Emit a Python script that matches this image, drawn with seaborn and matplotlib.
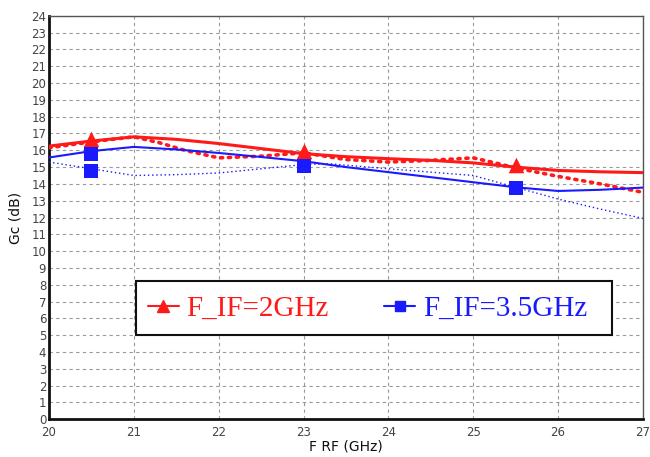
import matplotlib
matplotlib.use("Agg")
import matplotlib.pyplot as plt
from matplotlib.lines import Line2D
from matplotlib.patches import Rectangle
import seaborn as sns

# Conversion gain vs RF frequency
f_rf = [20, 20.5, 21, 21.5, 22, 22.5, 23, 23.5, 24, 24.5, 25, 25.5, 26, 26.5, 27]
gc_if2_solid = [16.25, 16.55, 16.8, 16.65, 16.4, 16.1, 15.8, 15.62, 15.5, 15.4, 15.25, 15.0, 14.8, 14.72, 14.67]
gc_if35_solid = [15.57, 15.95, 16.2, 16.05, 15.84, 15.6, 15.35, 15.0, 14.7, 14.4, 14.1, 13.8, 13.58, 13.65, 13.78]

f_rf_dot_red = [20, 20.5, 21, 21.3, 21.6, 22, 22.5, 23, 23.5, 24, 24.5, 25, 25.3, 25.5, 26, 26.5, 27]
gc_if2_dot = [16.15, 16.5, 16.8, 16.45, 16.0, 15.55, 15.65, 15.85, 15.45, 15.3, 15.4, 15.55, 15.2, 14.95, 14.45, 14.0, 13.5]

f_rf_dot_blue = [20, 20.5, 21, 21.5, 22, 22.5, 23, 23.3, 24, 24.5, 25, 25.5, 26, 26.5, 27]
gc_if35_dot = [15.3, 14.9, 14.5, 14.55, 14.65, 14.9, 15.15, 15.2, 14.9, 14.7, 14.5, 13.8, 13.1, 12.5, 11.95]

# Measured points
f_tri = [20.5, 23, 25.5]
gc_tri = [16.7, 15.95, 15.1]
f_sq = [20.5, 20.5, 23, 25.5]
gc_sq = [15.77, 14.75, 15.05, 13.77]

legend_labels = ["F_IF=2GHz", "F_IF=3.5GHz"]
x_ticks = [20, 21, 22, 23, 24, 25, 26, 27]
y_ticks = list(range(0, 25))

sns.set_style("white")
plt.rcParams["font.family"] = ["DejaVu Sans"]

fig = plt.figure(figsize=(6.5, 4.57), dpi=100)
ax = fig.add_axes([0.0754, 0.0825, 0.9136, 0.883])

red = "#ff1a1a"
blue = "#1a1aff"

sns.lineplot(x=f_rf, y=gc_if2_solid, ax=ax, color=red, linewidth=2.2, zorder=3)
sns.lineplot(x=f_rf_dot_red, y=gc_if2_dot, ax=ax, color=red, linewidth=2.6,
             linestyle=(0, (0.6, 1.6)), dash_capstyle="round", zorder=3)
sns.lineplot(x=f_rf, y=gc_if35_solid, ax=ax, color=blue, linewidth=1.5, zorder=3)
sns.lineplot(x=f_rf_dot_blue, y=gc_if35_dot, ax=ax, color=blue, linewidth=1.0,
             linestyle=(0, (1, 2)), zorder=3)

sns.scatterplot(x=f_tri, y=gc_tri, ax=ax, marker="^", s=125, color=red,
                edgecolor=red, linewidth=0, zorder=4)
sns.scatterplot(x=f_sq, y=gc_sq, ax=ax, marker="s", s=100, color=blue,
                edgecolor=blue, linewidth=0, zorder=4)

ax.set_xlim(20, 27)
ax.set_ylim(0, 24)
ax.set_xticks(x_ticks)
ax.set_yticks(y_ticks)
ax.tick_params(axis="both", length=0, labelsize=8.5, labelcolor="#444444")
ax.tick_params(axis="y", pad=2)
ax.tick_params(axis="x", pad=5)
ax.grid(True, color="#999999", linestyle=(0, (3, 3)), linewidth=0.8)
ax.set_axisbelow(True)

for side in ["top", "right"]:
    ax.spines[side].set_color("#555555")
    ax.spines[side].set_linewidth(1.0)
for side in ["left", "bottom"]:
    ax.spines[side].set_color("#111111")
    ax.spines[side].set_linewidth(2.0)

ax.set_xlabel("F RF (GHz)", fontsize=10, color="#111111", labelpad=0)
ax.set_ylabel("Gc (dB)", fontsize=10, color="#111111", labelpad=6)

# Legend box drawn as its own white frame, entries placed inside it
box = Rectangle((0.1465, 0.2089), 0.8013, 0.1338, transform=ax.transAxes,
                facecolor="white", edgecolor="#111111", linewidth=1.5, zorder=5)
ax.add_patch(box)

handles = [
    Line2D([0], [0], color=red, linewidth=1.5, marker="^", markersize=9),
    Line2D([0], [0], color=blue, linewidth=1.5, marker="s", markersize=7),
]
leg = ax.legend(handles, legend_labels, ncol=2, loc="center left",
                bbox_to_anchor=(0.1667, 0.273), borderaxespad=0, borderpad=0,
                frameon=False, handlelength=1.05, handletextpad=0.27,
                columnspacing=1.9,
                prop={"family": "Liberation Serif", "size": 21})
leg.set_zorder(6)
for txt, col in zip(leg.get_texts(), [red, blue]):
    txt.set_color(col)

fig.savefig("out.png", dpi=100)
